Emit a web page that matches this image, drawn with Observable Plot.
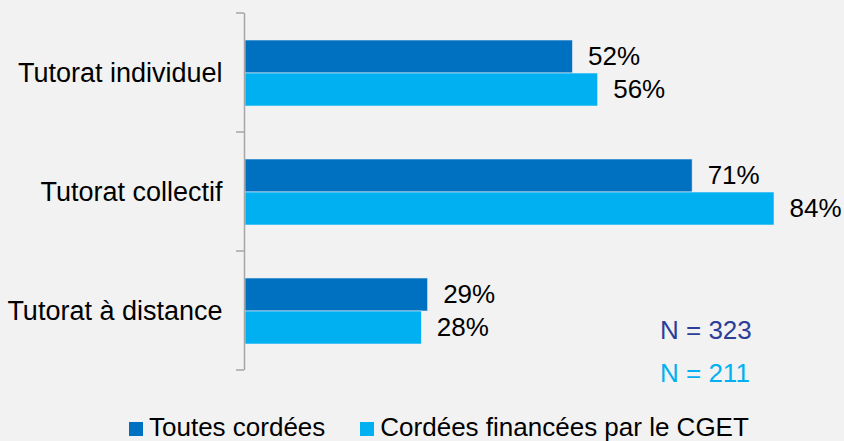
<!DOCTYPE html>
<html>
<head>
<meta charset="utf-8">
<script src="https://cdn.jsdelivr.net/npm/d3@7"></script>
<script src="https://cdn.jsdelivr.net/npm/@observablehq/plot@0.6"></script>
<style>
  body { margin: 0; background: #f2f2f2; font-family: "Liberation Sans", Arial, sans-serif; }
  #wrap { position: relative; width: 844px; height: 441px; background: #f2f2f2; }
  #legend { height: 41px; box-sizing: border-box; padding-top: 14px; padding-left: 129px; font-size: 26px; line-height: 26px; color: #000; white-space: nowrap; }
  .sw { display: inline-block; width: 14px; height: 14px; vertical-align: baseline; margin-right: 6px; }
  .note { position: absolute; font-size: 26px; line-height: 26px; white-space: nowrap; }
</style>
</head>
<body>
<div id="wrap">
  <div id="chart"></div>
  <div id="legend"></div>
</div>
<script>
const categories = ["Tutorat individuel", "Tutorat collectif", "Tutorat à distance"];
const series = ["Toutes cordées", "Cordées financées par le CGET"];
const toutes = [52, 71, 29];
const cget = [56, 84, 28];
const colors = ["#0070C0", "#00B0F0"];
const nLabels = ["N = 323", "N = 211"];
const nColors = ["#2B3F99", "#00B0F0"];

const data = [];
categories.forEach((c, i) => {
  data.push({cat: c, series: series[0], value: toutes[i]});
  data.push({cat: c, series: series[1], value: cget[i]});
});

const plot = Plot.plot({
  width: 844,
  height: 400,
  marginLeft: 245,
  marginRight: 70,
  marginTop: 12,
  marginBottom: 30,
  style: {background: "#f2f2f2", fontFamily: "'Liberation Sans', Arial, sans-serif", fontSize: "26px", overflow: "visible"},
  x: {domain: [0, 84], axis: null},
  y: {domain: series, paddingInner: 0, paddingOuter: 0.76, align: 0.5, axis: null},
  fy: {domain: categories, padding: 0, axis: null},
  color: {domain: series, range: colors},
  marks: [
    Plot.axisFy({anchor: "left", label: null, tickSize: 0, tickPadding: 23, fontSize: 27, fill: "#000"}),
    Plot.barX(data, {x: "value", y: "series", fy: "cat", fill: "series", stroke: "#e8eef5", strokeWidth: 0.6}),
    Plot.ruleX([0], {stroke: "#A6A6A6", strokeWidth: 1.5, dx: -1}),
    Plot.text(data, {x: "value", y: "series", fy: "cat", text: d => d.value + "%", textAnchor: "start", dx: 15, fill: "#000", fontSize: 26})
  ]
});
document.getElementById("chart").appendChild(plot);

// boundary ticks on the category axis, positioned from Plot's own scales
const fy = plot.scale("fy");
const xs = plot.scale("x");
const x0 = xs.apply(0) - 1;
const bounds = categories.map(c => fy.apply(c));
bounds.push(fy.apply(categories[categories.length - 1]) + fy.step);
const svg = d3.select(plot);
svg.append("g").selectAll("line").data(bounds).join("line")
  .attr("x1", x0 - 8).attr("x2", x0)
  .attr("y1", d => d).attr("y2", d => d)
  .attr("stroke", "#A6A6A6").attr("stroke-width", 1.5);

// legend
const legend = d3.select("#legend");
series.forEach((s, i) => {
  const item = legend.append("span").style("margin-right", i === 0 ? "35px" : "0");
  item.append("span").attr("class", "sw").style("background", colors[i]);
  item.append("span").text(s);
});

// N annotations
const wrap = d3.select("#wrap");
const noteTops = [317, 360];
nLabels.forEach((t, i) => {
  wrap.append("div").attr("class", "note")
    .style("left", "660px").style("top", noteTops[i] + "px")
    .style("color", nColors[i]).text(t);
});
</script>
</body>
</html>
